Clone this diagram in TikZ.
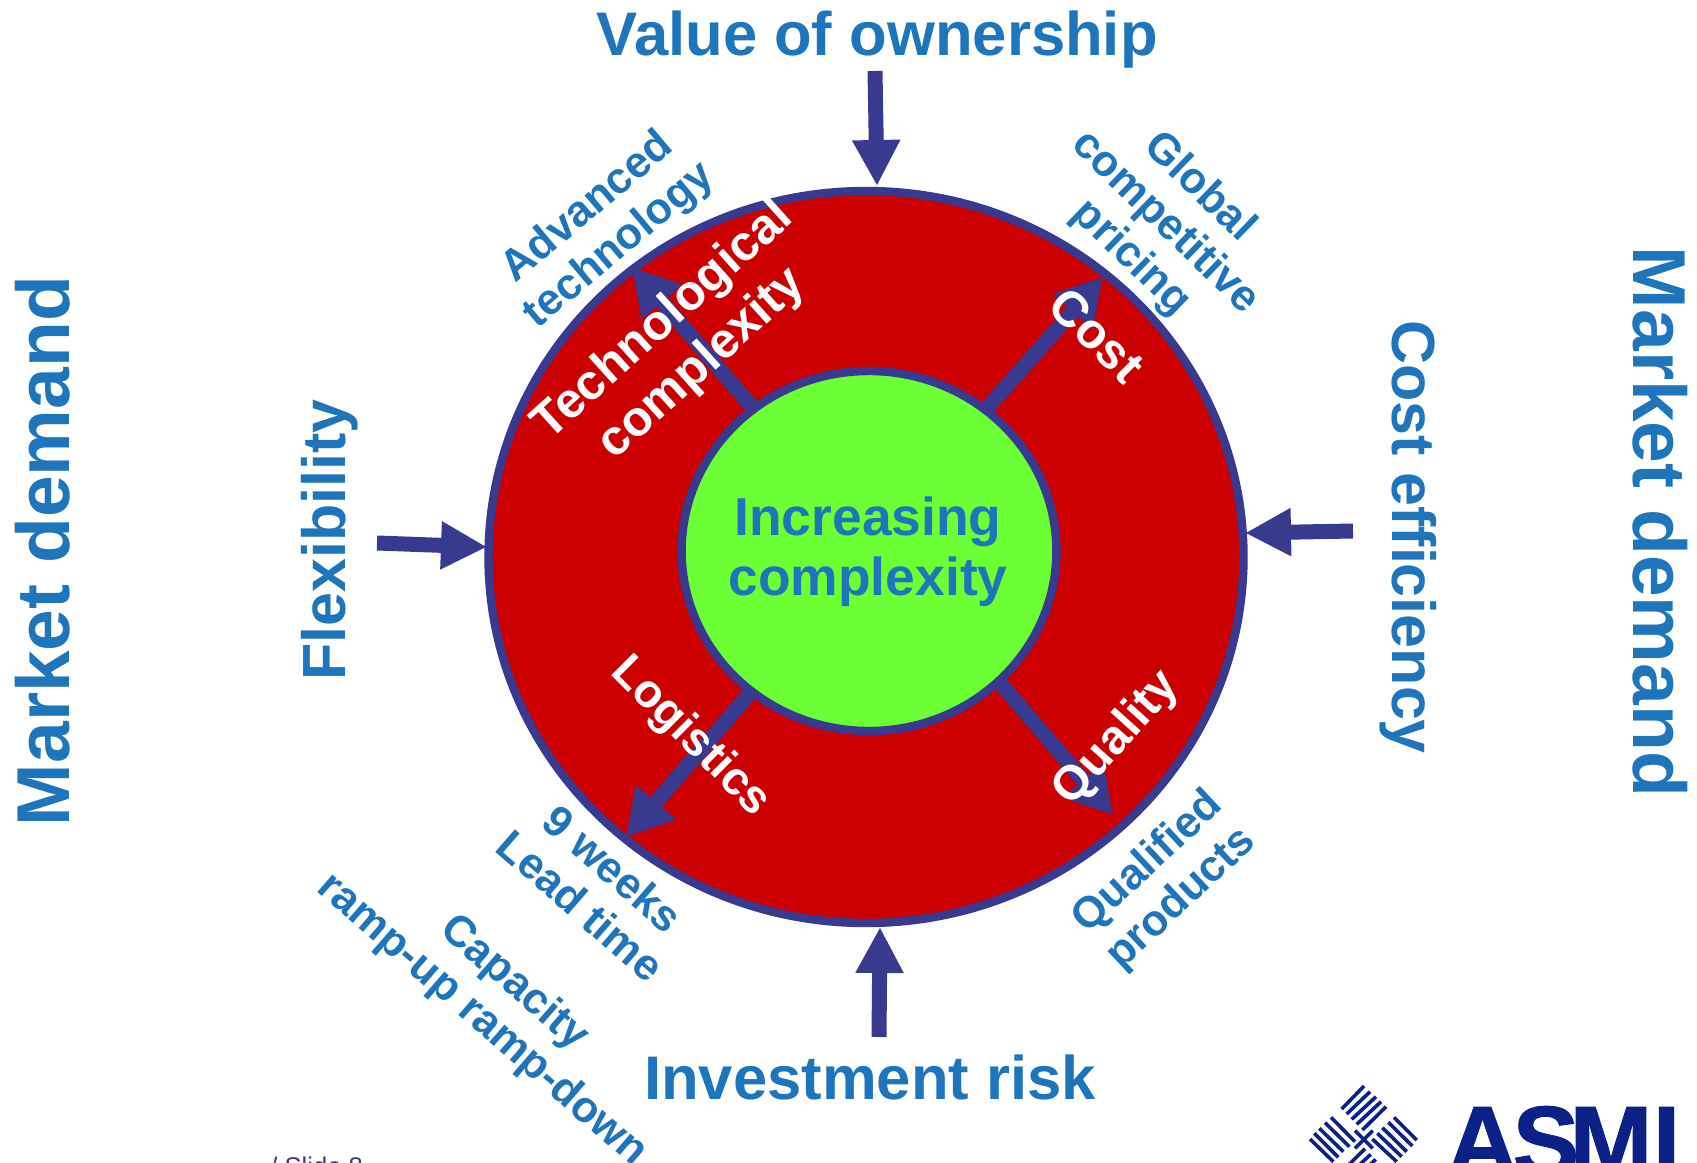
\documentclass[tikz,border=0pt]{standalone}
\usepackage{fontspec}
\setmainfont{Liberation Sans}
\newfontfamily\logofont[BoldFeatures={FakeBold=1}]{Liberation Sans}
\usetikzlibrary{arrows.meta,shapes.geometric}
\definecolor{nblue}{HTML}{373A8F}
\definecolor{tblue}{HTML}{1F75BC}
\definecolor{ringred}{HTML}{CC0000}
\definecolor{hubgreen}{HTML}{6CFF33}
\definecolor{logoblue}{HTML}{0C2188}
\tikzset{
 ring/.style={ellipse,draw=nblue,line width=4.2pt,inner sep=0pt},
 bigarrow/.style={draw=nblue,line width=7.5pt,-{Triangle[length=23pt,width=22.5pt,fill=nblue]}},
 midarrow/.style={draw=nblue,line width=7.5pt,-{Triangle[length=23pt,width=25pt,fill=nblue]}},
 huge/.style={text=tblue,font=\fontsize{37.5}{40}\selectfont\bfseries,inner sep=0pt},
 large/.style={text=tblue,font=\fontsize{30.8}{34}\selectfont\bfseries,inner sep=0pt},
 side/.style={text=tblue,font=\fontsize{30.5}{34}\selectfont\bfseries,inner sep=0pt},
 hubtext/.style={text=tblue,font=\fontsize{26.7}{30}\selectfont\bfseries,align=center,inner sep=0pt},
 small/.style={text=tblue,font=\fontsize{21.8}{24.5}\selectfont\bfseries,align=center,inner sep=0pt},
 white/.style={text=white,font=\fontsize{24.8}{29}\selectfont\bfseries,align=center,inner sep=0pt},
 bar/.style={draw=logoblue,line width=1.8pt},
}
\begin{document}
\begin{tikzpicture}[x=0.5pt,y=-0.5pt]
\useasboundingbox (0,0) rectangle (1697,1162);
\clip (0,0) rectangle (1697,1162);
% rings
\node[ring,fill=ringred,minimum width=377.5pt,minimum height=366pt] (outer) at (866,557) {};
\node[ring,fill=hubgreen,minimum width=187.4pt,minimum height=180pt] (hub) at (869,551) {};
% outer arrows
\coordinate (t1) at (875,71); \coordinate (t2) at (877,186);
\coordinate (b1) at (879,1037); \coordinate (b2) at (880,927);
\coordinate (l1) at (377,543); \coordinate (l2) at (487,547);
\coordinate (r1) at (1353,531); \coordinate (r2) at (1245,533);
\draw[bigarrow] (t1) -- (t2);
\draw[bigarrow] (b1) -- (b2);
\draw[bigarrow] (l1) -- (l2);
\draw[bigarrow] (r1) -- (r2);
% inner arrows
\coordinate (a1) at (752,407); \coordinate (a2) at (632,267);
\coordinate (c1) at (988,407); \coordinate (c2) at (1103,277);
\coordinate (d1) at (750,693); \coordinate (d2) at (626,837);
\coordinate (e1) at (1001,684); \coordinate (e2) at (1113,815);
\draw[midarrow] (a1) -- (a2);
\draw[midarrow] (c1) -- (c2);
\draw[midarrow] (d1) -- (d2);
\draw[midarrow] (e1) -- (e2);
% labels
\node[large] (value) at (877,40) {Value of ownership};
\node[large] (invest) at (870,1077) {Investment risk};
\node[side,rotate=90] (flex) at (330,540) {Flexibility};
\node[side,rotate=-90] (costeff) at (1408,537) {Cost efficiency};
\node[huge,rotate=90] (mdl) at (43,551) {Market demand};
\node[huge,rotate=-90] (mdr) at (1660,522) {Market demand};
\node[hubtext] (inc) at (868,552) {Increasing\\complexity};
\node[small,rotate=40] (adv) at (604,227) {Advanced\\technology};
\node[small,rotate=-44] (glob) at (1165,223) {Global\\competitive\\pricing};
\node[small,rotate=43] (qual) at (1165,881) {Qualified\\products};
\node[small,rotate=-41] (lead) at (597,887) {9 weeks\\Lead time};
\node[small,rotate=-41] (cap) at (498,1002) {Capacity\\ramp-up ramp-down};
\node[white,rotate=42] (tech) at (683,343) {Technological\\complexity};
\node[white,rotate=-45] (cost) at (1097,335) {Cost};
\node[white,rotate=-45,font=\fontsize{23.3}{27}\selectfont\bfseries] (logi) at (690,737) {Logistics};
\node[white,rotate=48,font=\fontsize{24}{28}\selectfont\bfseries] (quality) at (1117,739) {Quality};
\node[text=nblue,font=\fontsize{12.8}{15}\selectfont,anchor=base west,inner sep=0pt] (slide) at (270,1175) {/ Slide 8};
% logo
\begin{scope}[shift={(1250,1040)},x=0.1667pt,y=-0.1667pt]
\foreach \a/\b/\c/\d in {275/207/342/138,290/222/360/155,305/238/378/170,320/253/393/185,337/270/408/200,
 243/232/315/305,225/248/298/320,208/265/280/335,193/280/265/352,180/297/250/365,
 432/232/500/300,415/247/487/318,397/263/470/335,382/280/455/350,367/297/440/365,
 345/326/274/396,362/343/289/411,377/358/304/426,
 315/272/368/325,315/325/368/272}
  \draw[bar] (\a,\b) -- (\c,\d);
\end{scope}
\node[text=logoblue,font=\logofont\fontsize{50}{50}\selectfont\bfseries,anchor=base west,inner sep=0pt] (asml) at (1446,1176) {A\kern-3pt S\kern-5pt ML};
\end{tikzpicture}
\end{document}
